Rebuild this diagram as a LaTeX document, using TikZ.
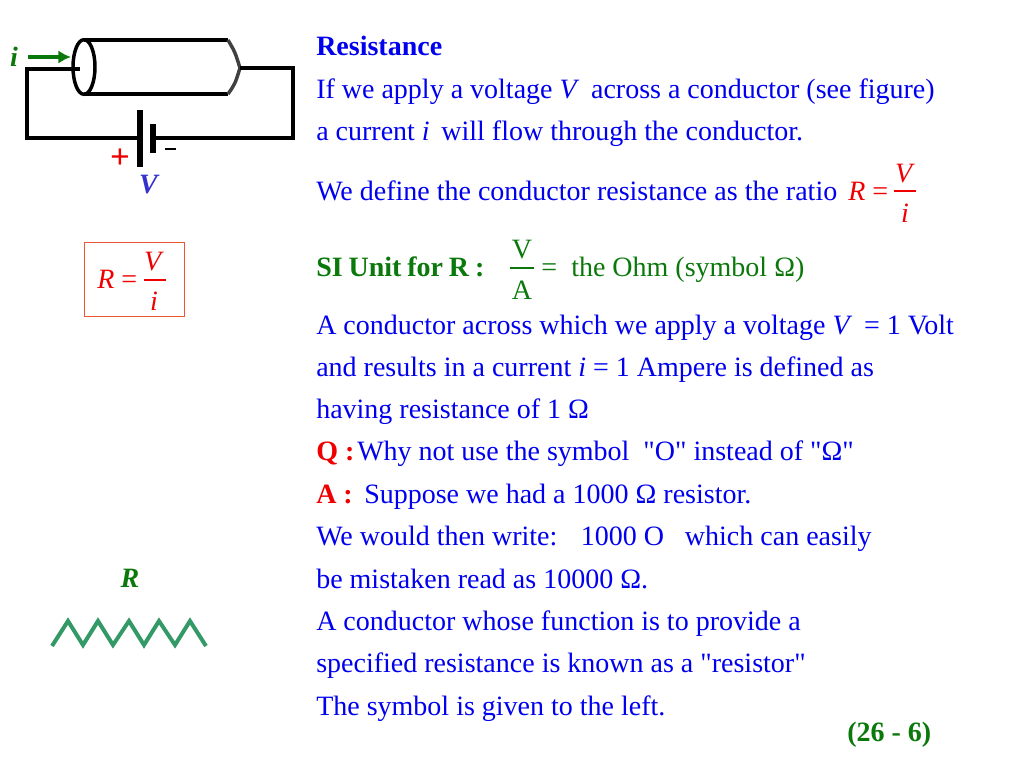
\documentclass[tikz,border=0pt]{standalone}
\usepackage{fontspec}
\usetikzlibrary{shapes,arrows.meta}
\setmainfont{Liberation Serif}[Ligatures=TeXOff]
\definecolor{textblue}{HTML}{0000EE}
\definecolor{textred}{HTML}{EE0000}
\definecolor{textgreen}{HTML}{0A780A}
\definecolor{voltblue}{HTML}{3333CC}
\definecolor{zigzag}{HTML}{339966}
\definecolor{boxred}{HTML}{EE5533}
\begin{document}
\begin{tikzpicture} [x=0.75pt,y=-0.75pt,
  txt/.style= {anchor=base west,inner sep=0,font=\fontsize{21}{25}\selectfont,text=textblue},
  lab/.style= {anchor=base,inner sep=0,font=\fontsize{21}{25}\selectfont},
  wire/.style= {draw=black,line width=2.6pt},
  ratio/.style= {line width=0.9pt}]
  \useasboundingbox (0,0) rectangle (1024,768);
  % Conductor
  \node[wire,shape=ellipse,minimum width=16.5pt,minimum height=41pt,inner sep=0] (endcap) at (84,67) { };
  \coordinate (capt) at (84,40);
  \coordinate (capb) at (84,94);
  \coordinate (tipt) at (228,40);
  \coordinate (tipb) at (228,94);
  \coordinate (tipr) at (240,68);
  \draw[wire] (capt) -- (tipt);
  \draw[wire] (capb) -- (tipb);
  \draw[wire,draw=black!75] (tipt) .. controls (235,52) .. (tipr) .. controls (235,84) .. (tipb);
  % Circuit
  \coordinate (wirein) at (80,69);
  \coordinate (cornera) at (27,69);
  \coordinate (cornerb) at (27,138);
  \coordinate (batl) at (140,138);
  \coordinate (batr) at (153,138);
  \coordinate (cornerc) at (293,138);
  \coordinate (cornerd) at (293,68);
  \draw[wire,line join=miter] (wirein) -- (cornera) -- (cornerb) -- (batl);
  \draw[wire,line join=miter] (batr) -- (cornerc) -- (cornerd) -- (tipr);
  % Battery
  \coordinate (longt) at (140,110);
  \coordinate (longb) at (140,167);
  \coordinate (shortt) at (153,124);
  \coordinate (shortb) at (153,153);
  \draw[line width=4.8pt] (longt) -- (longb);
  \draw[line width=4.8pt] (shortt) -- (shortb);
  \coordinate (minusl) at (165,149);
  \coordinate (minusr) at (176,149);
  \draw[line width=1.9pt] (minusl) -- (minusr);
  \node[lab,text=textred,font=\fontsize{26}{30}\selectfont] (plus) at (120,168) {\textbf{+}};
  \node[lab,text=voltblue] (volt) at (149.5,193) {\textbf{\textit{V}}};
  % Current
  \coordinate (arrowa) at (28,57);
  \coordinate (arrowb) at (71,57);
  \draw[-{Latex[length=9.5pt,width=10pt]},draw=textgreen,line width=2.8pt] (arrowa) -- (arrowb);
  \node[lab,text=textgreen] (cur) at (14,66) {\textbf{\textit{i}}};
  % Boxed ratio
  \node[draw=boxred,line width=0.8pt,minimum width=75pt,minimum height=55.5pt,inner sep=0] (box) at (134.5,279.5) { };
  \node[lab,text=textred,anchor=base west] (boxr) at (97,288) {\textit{R} =};
  \node[lab,text=textred] (boxv) at (154,270) {\textit{V}};
  \node[lab,text=textred] (boxi) at (154,310) {\textit{i}};
  \coordinate (boxa) at (144,280);
  \coordinate (boxb) at (166,280);
  \draw[ratio,draw=textred] (boxa) -- (boxb);
  % Resistor
  \node[lab,text=textgreen] (res) at (130,587) {\textbf{\textit{R}}};
  \coordinate (rstart) at (52,646);
  \coordinate (rstop) at (206,646);
  \draw[draw=zigzag,line width=3pt,line join=miter] (rstart) -- (68,621) -- (83,645) -- (98,621) -- (113,645) -- (129,621) -- (144,645) -- (159,621) -- (175,645) -- (190,621) -- (rstop);
  % Column of text
  \node[txt] (l1) at (316,55) {\textbf{Resistance}};
  \node[txt] (l2) at (316,98) {If we apply a voltage \textit{V}\, across a conductor (see figure)};
  \node[txt] (l3) at (316,140) {a current \textit{i}\, will flow through the conductor.};
  \node[txt] (l4) at (316,200) {We define the conductor resistance as the ratio};
  \node[lab,text=textred,anchor=base west] (defr) at (848,200) {\textit{R} =};
  \node[lab,text=textred] (defv) at (905,182) {\textit{V}};
  \node[lab,text=textred] (defi) at (905,222) {\textit{i}};
  \coordinate (defa) at (894,191);
  \coordinate (defb) at (916,191);
  \draw[ratio,draw=textred] (defa) -- (defb);
  \node[txt,text=textgreen] (l5) at (316,276) {\spaceskip=4.4pt\textbf{SI Unit for R :}};
  \node[lab,text=textgreen] (unitv) at (522,258) {V};
  \node[lab,text=textgreen] (unita) at (522,299) {A};
  \coordinate (unitl) at (510,268);
  \coordinate (unitr) at (534,268);
  \draw[ratio,draw=textgreen] (unitl) -- (unitr);
  \node[txt,text=textgreen] (l5b) at (541,276) {\makebox[22.5pt][l]{=}the Ohm (symbol Ω)};
  \node[txt] (l6) at (316,334) {A conductor across which we apply a voltage \textit{V}\, = 1 Volt};
  \node[txt] (l7) at (316,376) {and results in a current \textit{i} = 1 Ampere is defined as};
  \node[txt] (l8) at (316,418) {having resistance of 1 Ω};
  \node[txt,text=textred] (q) at (316,460) {\textbf{Q :}};
  \node[txt] (l9) at (357,460) {Why not use the symbol \ "O" instead of "Ω"};
  \node[txt,text=textred] (a) at (316,503) {\textbf{A :}};
  \node[txt] (l10) at (364,503) {Suppose we had a 1000 Ω resistor.};
  \node[txt] (l11) at (316,545) {We would then write: \ \ 1000 O \ \ which can easily};
  \node[txt] (l12) at (316,588) {be mistaken read as 10000 Ω.};
  \node[txt] (l13) at (316,630) {A conductor whose function is to provide a};
  \node[txt] (l14) at (316,672) {specified resistance is known as a "resistor"};
  \node[txt] (l15) at (316,715) {The symbol is given to the left.};
  \node[txt,text=textgreen] (page) at (847,741) {\textbf{(26 - 6)}};
\end{tikzpicture}
\end{document}
